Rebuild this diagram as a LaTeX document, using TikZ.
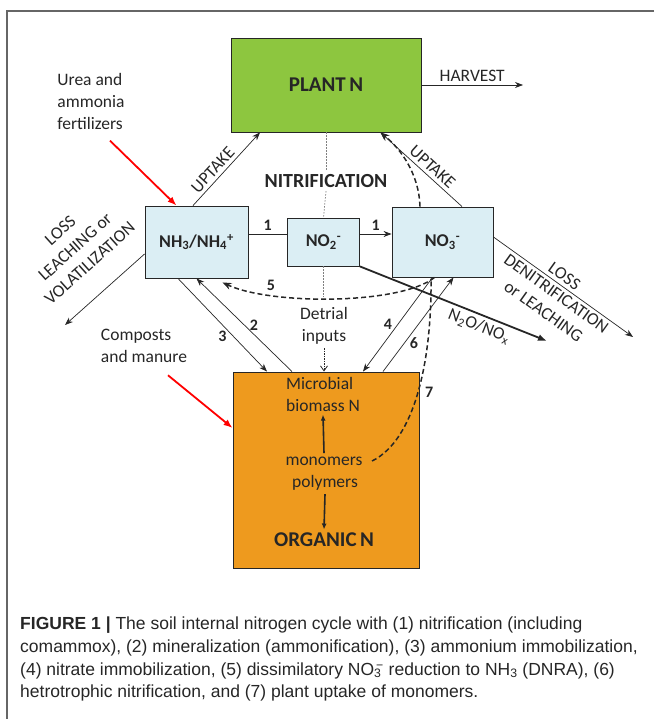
\documentclass[tikz,border=0pt]{standalone}
\usepackage{fontspec}
\setmainfont{Carlito}
\newfontfamily\capfont{Liberation Sans}
\usepackage{tikz}
\usetikzlibrary{arrows.meta}
\definecolor{plantgreen}{RGB}{141,198,63}
\definecolor{orgorange}{RGB}{238,154,30}
\definecolor{poolblue}{RGB}{219,238,244}
\definecolor{inkgray}{RGB}{38,38,38}

\begin{document}
\begin{tikzpicture}[x=1pt,y=-1pt,inkgray,
	pool/.style={draw=inkgray,line width=0.9pt,fill=poolblue,inner sep=0pt,font=\fontsize{18}{20}\selectfont\bfseries},
	lbl/.style={font=\fontsize{17.5}{22}\selectfont},
	num/.style={font=\fontsize{16}{18}\selectfont\bfseries},
	flux/.style={line width=0.7pt,-{Stealth[length=8pt,width=6pt]}},
	dflux/.style={line width=1.5pt,dash pattern=on 5pt off 3pt},
	redflux/.style={red,line width=1.8pt,-{Latex[length=9pt,width=7pt]}},
	nitdots/.style={gray,line width=0.7pt,dash pattern=on 1.5pt off 1.5pt}]
	\useasboundingbox (0,0) rectangle (654,719);
	\draw[line width=1.2pt,gray!80!black] (654,11) -- (7,11) -- (7,719);
	\coordinate (harv) at (523,85);
	\coordinate (lossL) at (65,325);
	\coordinate (lossR) at (633,337);
	\coordinate (n2o) at (547,341);
	\coordinate (c5) at (323.5,297);
	\node[pool,fill=plantgreen,minimum width=190pt,minimum height=94pt,font=\fontsize{21}{24}\selectfont\bfseries] (plant) at (326,85) {PLANT\,N};
	\node[pool,minimum width=103pt,minimum height=72pt] (nh) at (196.5,242) {NH\textsubscript{3}/NH\textsubscript{4}\textsuperscript{+}};
	\node[pool,minimum width=72pt,minimum height=48pt] (no2) at (323.5,242) {NO\textsubscript{2}\textsuperscript{-}};
	\node[pool,minimum width=101pt,minimum height=70pt] (no3) at (442.5,242) {NO\textsubscript{3}\textsuperscript{-}};
	\node[pool,fill=orgorange,minimum width=186pt,minimum height=196pt] (org) at (326,470) {};
	\node[font=\fontsize{20}{24}\selectfont\bfseries] (nitr) at (326,181) {NITRIFICATION};
	\node[lbl,align=left] (urea) at (91,101) {Urea and\\ammonia\\fertilizers};
	\node[lbl,align=left] (comp) at (144,346) {Composts\\and manure};
	\node[lbl,align=center] (det) at (324,326) {Detrial\\inputs};
	\node[lbl,align=left] (micro) at (323,394) {Microbial\\biomass N};
	\node[lbl] (mono) at (324,461) {monomers};
	\node[lbl] (poly) at (325,483) {polymers};
	\node[font=\fontsize{21}{24}\selectfont\bfseries] (orgN) at (324,540) {ORGANIC\,N};
	\node[lbl,rotate=42,align=center] (lossLtxt) at (75,247) {LOSS\\LEACHING or\\VOLATILIZATION};
	\draw[nitdots] (plant.south) -- (nitr.north);
	\draw[nitdots] (nitr.south) -- (no2.north);
	\draw[nitdots] (no2.south) -- (c5);
	\draw[flux] (plant.east) -- (harv) node[lbl,midway,above] {HARVEST};
	\draw[redflux] ([xshift=19pt,yshift=-8pt]urea.south) -- ([xshift=-20pt]nh.north);
	\draw[redflux] ([xshift=24pt,yshift=-9pt]comp.south) -- ([yshift=42pt]org.west);
	\draw[flux] ([xshift=-3.5pt]nh.north) -- ([xshift=-66pt]plant.south) node[lbl,pos=0.4,above,sloped] {UPTAKE};
	\draw[flux] ([xshift=19.5pt]no3.north) -- ([xshift=-41pt]plant.south east) node[lbl,pos=0.44,above,sloped] {UPTAKE};
	\draw[flux] ([yshift=-12pt]nh.west) -- (lossL);
	\draw[flux] ([yshift=5pt]no3.east) -- (lossR) node[lbl,pos=0.47,above,sloped] {LOSS} node[lbl,pos=0.49,below,sloped,align=center] {DENITRIFICATION\\or LEACHING};
	\draw[line width=0.7pt] ([yshift=8pt]nh.east) -- ([yshift=8pt]no2.west) node[num,midway,above] {1};
	\draw[flux] ([yshift=8pt]no2.east) -- ([yshift=8pt]no3.west) node[num,midway,above] {1};
	\draw[line width=1.8pt,-{Latex[length=9pt,width=7pt]}] (no2.south east) -- (n2o) node[lbl,pos=0.66,below,sloped] {N\textsubscript{2}O/NO\textsubscript{x}};
	\draw[flux] ([xshift=-18.5pt]nh.south) -- ([xshift=-59pt]org.north) node[num,pos=0.62,left=3pt] {3};
	\draw[flux] ([xshift=-34pt]org.north) -- (nh.south) node[num,pos=0.5,right=2pt] {2};
	\draw[flux] ([xshift=-10pt]no3.south) -- ([xshift=37pt]org.north) node[num,pos=0.5,left=2pt] {4};
	\draw[flux] ([xshift=57pt]org.north) -- ([xshift=11pt]no3.south) node[num,pos=0.3,right=2pt] {6};
	\draw[dflux,-{Stealth[length=9pt,width=7pt]}] ([xshift=-8pt]no3.south) .. controls (400,305) and (270,305) .. ([xshift=26pt,yshift=-4pt]nh.south) node[num,pos=0.75,above] {5};
	\draw[dflux] ([xshift=6pt]mono.east) .. controls (415,440) and (432,360) .. ([xshift=-11.5pt]no3.south) node[num,pos=0.5,right=3pt] {7};
	\draw[dflux,-{Stealth[length=9pt,width=7pt]}] ([xshift=-22.5pt]no3.north) .. controls (419,175) and (402,150) .. ([xshift=-41pt]plant.south east);
	\draw[line width=0.8pt,dash pattern=on 1.5pt off 1pt,-{Straight Barb[length=5pt,width=7pt]}] (det.south) -- (det.south |- org.north);
	\draw[line width=1.6pt,-{Latex[length=6pt,width=5pt]}] (mono.north) -- (micro.south);
	\draw[line width=1.6pt,-{Latex[length=6pt,width=5pt]}] (poly.south) -- (orgN.north);
	\node[anchor=north west,inner sep=0pt,align=left,font=\capfont\fontsize{17.5}{22.7}\selectfont] (caption) at (20,617) {\textbf{FIGURE 1 |} The soil internal nitrogen cycle with (1) nitrification (including\\comammox), (2) mineralization (ammonification), (3) ammonium immobilization,\\(4) nitrate immobilization, (5) dissimilatory NO\rlap{\textsubscript{3}}\textsuperscript{\,−}\ reduction to NH\textsubscript{3} (DNRA), (6)\\hetrotrophic nitrification, and (7) plant uptake of monomers.};
\end{tikzpicture}
\end{document}
